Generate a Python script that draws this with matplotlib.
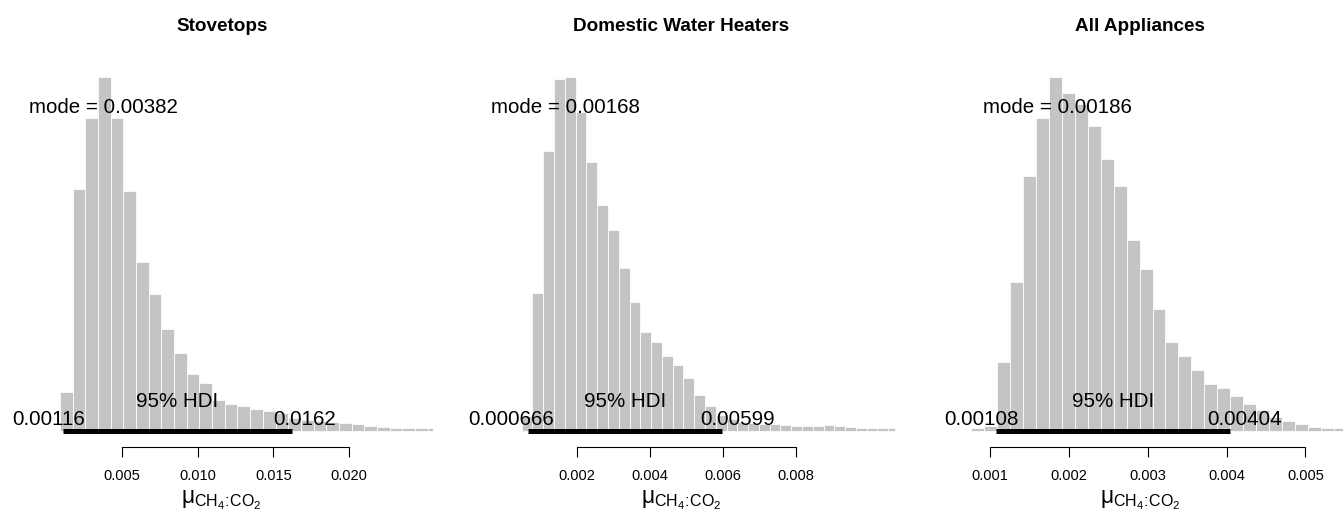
import numpy as np
import matplotlib
matplotlib.use("Agg")
import matplotlib.pyplot as plt

plt.rcParams['font.family'] = ['Liberation Sans', 'DejaVu Sans']
plt.rcParams['mathtext.fontset'] = 'custom'
plt.rcParams['mathtext.rm'] = 'Liberation Sans'
plt.rcParams['mathtext.it'] = 'Liberation Sans:italic'
plt.rcParams['mathtext.bf'] = 'Liberation Sans:bold'

# --- data (relative bar heights) ---
TITLES = ["Stovetops", "Domestic Water Heaters", "All Appliances"]

stove_heights = [39.5, 242.5, 312.8, 353.8, 312.8, 240.5, 168.8, 136.8, 101.8, 78.2,
                 56.8, 48.5, 31.2, 27.2, 25.5, 22.5, 20.2, 18, 13, 11,
                 10, 9, 8.2, 6.8, 5.2, 3.8, 2.8, 2.6, 2.6, 2.6]
stove_min, stove_max = 0.000933, 0.02552
stove_hdi = (0.00116, 0.0162)
stove_mode = 0.00382
stove_ticks = [0.005, 0.010, 0.015, 0.020]

water_heights = [15, 137.8, 280.5, 352.2, 353.8, 319.5, 268.8, 226.2, 201.2, 163.5,
                 128.8, 99.5, 88.8, 75.2, 65.8, 53.2, 35.8, 25.5, 16, 12,
                 9, 8, 7, 7, 6.5, 5.5, 5, 5, 6, 5,
                 4, 3.5, 3.5, 2.8, 2.6]
water_min, water_max = 0.000483, 0.010724
water_hdi = (0.000666, 0.00599)
water_mode = 0.00168
water_ticks = [0.002, 0.004, 0.006, 0.008]

all_heights = [3.4, 5, 69.5, 149.5, 254.8, 313.2, 353.8, 337.8, 327, 305.2,
               271.8, 245.2, 190.8, 162.5, 122.2, 88.8, 75.5, 61.2, 47.2, 42.8,
               34.8, 27.2, 21.2, 14, 10.5, 7.2, 4.2, 3.4, 3.4]
all_min, all_max = 0.000759, 0.0056
all_hdi = (0.00108, 0.00404)
all_mode = 0.00186
all_ticks = [0.001, 0.002, 0.003, 0.004, 0.005]

# axes placement (figure px) and x-limits
W, H = 1343, 516
BASE_PX, TOP_PX = 431, 60
AX_X = [(10, 433.5), (469.75, 893.25), (928.25, 1351.75)]
XLIMS = [(-0.002361, 0.025550), (-0.000942, 0.010676), (0.000216, 0.005589)]

BAR_COLOR = "#c4c4c4"
FS_TXT = 14.8
XLABEL = r'$\mathrm{μ_{CH_4\!:\!CO_2}}$'


def bin_edges(heights, smin, smax, hdi):
    # plotPost style breaks: bin width = HDI width / 18, last bin closes at max
    bw = (hdi[1] - hdi[0]) / 18.0
    left = smin + bw * np.arange(len(heights))
    right = np.minimum(left + bw, smax)
    return left, right - left


def draw_panel(ax, title, heights, smin, smax, hdi, mode, ticks, xlim):
    left, widths = bin_edges(heights, smin, smax, hdi)
    ax.bar(left, heights, width=widths, align='edge', color=BAR_COLOR,
           edgecolor='white', linewidth=0.55, clip_on=False)
    ax.plot(hdi, [0, 0], color='black', lw=3.6, solid_capstyle='butt', clip_on=False)

    ax.set_xlim(*xlim)
    ax.set_ylim(0, BASE_PX - TOP_PX)

    ax.annotate(f"mode = {mode:.3g}", xy=(mode, 0.9 * max(heights)),
                ha='center', va='baseline', fontsize=FS_TXT)
    ax.annotate("95% HDI", xy=(np.mean(hdi), 0), xytext=(0, 24.3),
                textcoords='offset pixels', ha='center', va='baseline', fontsize=FS_TXT)
    lo = ax.annotate(f"{hdi[0]:.3g}", xy=(hdi[0], 0), xytext=(0, 6),
                     textcoords='offset pixels', ha='left', va='baseline', fontsize=FS_TXT)
    hi = ax.annotate(f"{hdi[1]:.3g}", xy=(hdi[1], 0), xytext=(0, 6),
                     textcoords='offset pixels', ha='left', va='baseline', fontsize=FS_TXT)

    for s in ('left', 'top', 'right'):
        ax.spines[s].set_visible(False)
    ax.spines['bottom'].set_position(('outward', 11.3))
    ax.spines['bottom'].set_bounds(ticks[0], ticks[-1])
    ax.spines['bottom'].set_linewidth(0.8)
    ax.set_yticks([])
    ax.set_xticks(ticks)
    ax.set_xticklabels([f"{t:.3f}" for t in ticks])
    ax.tick_params(axis='x', direction='out', length=7.2, width=0.8,
                   pad=9, labelsize=10.5)
    ax.set_xlabel(XLABEL, fontsize=16.5, labelpad=4)
    ax.set_title(title, fontweight='bold', fontsize=13.6, pad=21)
    return [(lo, 0.7), (hi, 0.3)]


fig = plt.figure(figsize=(W / 100, H / 100), dpi=100)
panels = [
    (stove_heights, stove_min, stove_max, stove_hdi, stove_mode, stove_ticks),
    (water_heights, water_min, water_max, water_hdi, water_mode, water_ticks),
    (all_heights, all_min, all_max, all_hdi, all_mode, all_ticks),
]
shift = []
for i, (hts, smin, smax, hdi, mode, ticks) in enumerate(panels):
    x0, x1 = AX_X[i]
    ax = fig.add_axes([x0 / W, (H - BASE_PX) / H, (x1 - x0) / W, (BASE_PX - TOP_PX) / H])
    shift += draw_panel(ax, TITLES[i], hts, smin, smax, hdi, mode, ticks, XLIMS[i])

# R-style fractional text adjustment for the HDI end labels
fig.canvas.draw()
for txt, frac in shift:
    w = txt.get_window_extent().width
    txt.xyann = (-frac * w, 6)

fig.savefig("out.png", dpi=100)
